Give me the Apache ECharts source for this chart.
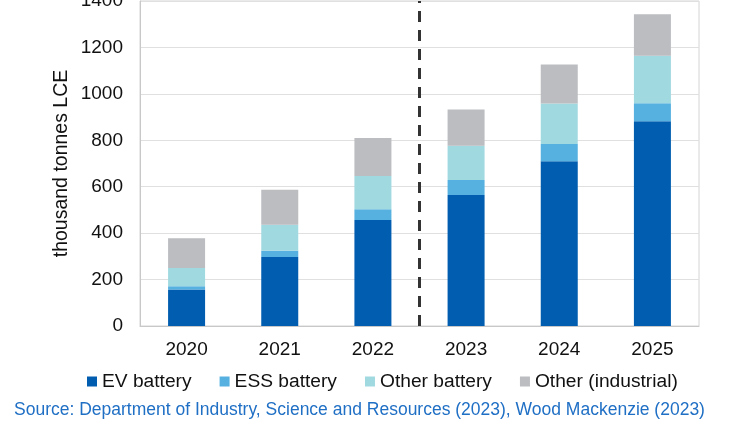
<!DOCTYPE html>
<html>
<head>
<meta charset="utf-8">
<script src="https://cdn.jsdelivr.net/npm/echarts@6/dist/echarts.min.js"></script>
<style>html,body{margin:0;padding:0;background:#fff;}#c{width:750px;height:430px;}</style>
</head>
<body>
<div id="c"></div>
<script>
const categories = ['2020', '2021', '2022', '2023', '2024', '2025'];
const evBattery = [157, 297, 457, 564, 710, 882];
const essBattery = [14, 27, 46, 65, 74, 78];
const otherBattery = [79, 112, 143, 147, 175, 204];
const otherIndustrial = [128, 151, 164, 157, 167, 179];
const yTicks = [0, 200, 400, 600, 800, 1000, 1200, 1400];
const dividerPosition = 3; // between 2022 and 2023 (actual vs forecast)

const colors = ['#005DB0', '#56B1E0', '#A0D9E0', '#BBBDC0'];
const names = ['EV battery', 'ESS battery', 'Other battery', 'Other (industrial)'];
const seriesData = [evBattery, essBattery, otherBattery, otherIndustrial];

const chart = echarts.init(document.getElementById('c'), null, { renderer: 'canvas' });
const font = 'Liberation Sans, Arial, sans-serif';

const barSeries = seriesData.map((d, i) => ({
  name: names[i],
  type: 'bar',
  stack: 'total',
  data: d,
  barWidth: 37,
  itemStyle: { color: colors[i] },
  emphasis: { disabled: true }
}));

chart.setOption({
  animation: false,
  textStyle: { fontFamily: font },
  title: {
    text: 'Source: Department of Industry, Science and Resources (2023), Wood Mackenzie (2023)',
    left: 14,
    top: 401,
    padding: 0,
    textStyle: { fontSize: 17.5, fontWeight: 'normal', color: '#1F6FC5', fontFamily: font }
  },
  legend: {
    data: names,
    left: 87,
    top: 372,
    padding: 0,
    icon: 'rect',
    itemWidth: 10,
    itemHeight: 10,
    itemGap: 28,
    textStyle: { fontSize: 19.2, color: '#111', fontFamily: font }
  },
  grid: {
    left: 140, right: 51, top: 1, bottom: 104,
    outerBoundsMode: 'none',
    containLabel: false,
    show: true, borderColor: '#D4D4D4', borderWidth: 1
  },
  xAxis: [{
    type: 'category',
    data: categories,
    axisTick: { show: false },
    axisLine: { lineStyle: { color: '#C8C8C8', width: 1 } },
    axisLabel: { fontSize: 19, color: '#111', margin: 14, fontFamily: font }
  }, {
    type: 'value',
    min: 0, max: categories.length,
    show: false
  }],
  yAxis: {
    type: 'value',
    min: yTicks[0], max: yTicks[yTicks.length - 1], interval: 200,
    name: 'thousand tonnes LCE',
    nameLocation: 'middle',
    nameGap: 68,
    nameMoveOverlap: false,
    nameTextStyle: { fontSize: 19.5, color: '#111', fontFamily: font },
    axisLine: { show: true, lineStyle: { color: '#C8C8C8' } },
    axisTick: { show: false },
    axisLabel: { fontSize: 19, color: '#111', margin: 17, fontFamily: font, formatter: v => String(v) },
    splitLine: { lineStyle: { color: '#E0E0E0', width: 1 } }
  },
  series: barSeries.concat([{
    type: 'line',
    xAxisIndex: 1,
    yAxisIndex: 0,
    data: [[dividerPosition, yTicks[0]], [dividerPosition, yTicks[yTicks.length - 1]]],
    symbol: 'none',
    silent: true,
    lineStyle: { color: '#333', width: 3, type: [11, 8] },
    z: 5
  }])
});
</script>
</body>
</html>
